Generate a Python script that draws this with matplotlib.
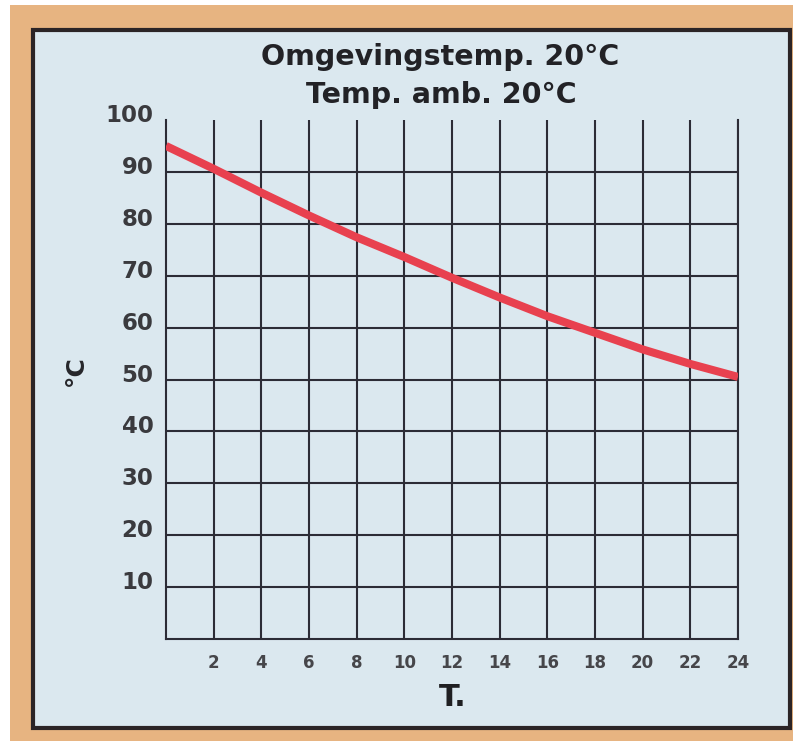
import numpy as np
import matplotlib
matplotlib.use('Agg')
import matplotlib.pyplot as plt
from matplotlib.patches import Rectangle
from matplotlib.transforms import ScaledTranslation

# cooling curve: water temperature over time, ambient 20 C
hours = [0, 2, 4, 6, 8, 10, 12, 14, 16, 18, 20, 22, 24]
temps = [95.0, 90.6, 86.0, 81.6, 77.4, 73.6, 69.6, 65.8, 62.2, 59.0, 55.8, 53.0, 50.5]

xticks = list(range(2, 25, 2))
yticks = list(range(10, 101, 10))
title_lines = ['Omgevingstemp. 20°C', 'Temp. amb. 20°C']

W, H = 793, 741
fig = plt.figure(figsize=(W / 100, H / 100), dpi=100, facecolor='white')

# printed card: orange backing, dark frame, pale blue panel
fig.patches.append(Rectangle((10 / W, 0), 1, 1 - 5 / H, transform=fig.transFigure,
                             facecolor='#e7b481', edgecolor='none', zorder=0))
fig.patches.append(Rectangle((33 / W, 1 - 728 / H), (790 - 33) / W, (728 - 30) / H,
                             transform=fig.transFigure, facecolor='#dbe8ef',
                             edgecolor='#2b2426', linewidth=3, zorder=1))

ax = fig.add_axes([166 / W, 1 - 639 / H, 572 / W, 519 / H], zorder=5)
ax.set_facecolor('none')
ax.set_xlim(0, 24)
ax.set_ylim(0, 100)

gridc = '#2c2c36'
ax.set_xticks(xticks)
ax.set_yticks(yticks)
ax.grid(True, color=gridc, linewidth=1.5)
ax.yaxis.get_gridlines()[-1].set_visible(False)
ax.spines['top'].set_visible(False)
for side in ['left', 'bottom', 'right']:
    ax.spines[side].set_color(gridc)
    ax.spines[side].set_linewidth(1.5)

ax.tick_params(axis='both', length=0)
ax.tick_params(axis='y', pad=9, labelsize=16.5, labelcolor='#3a3a3e')
ax.tick_params(axis='x', pad=11, labelsize=12, labelcolor='#46464a')
for lbl in ax.get_yticklabels():
    lbl.set_fontweight('bold')
    lbl.set_transform(lbl.get_transform() + ScaledTranslation(0, 7 / 100, fig.dpi_scale_trans))
for lbl in ax.get_xticklabels():
    lbl.set_fontweight('bold')

ax.plot(hours, temps, color='#e8414f', linewidth=5.8, solid_capstyle='butt', zorder=3)

fig.text(440 / W, 1 - 57 / H, title_lines[0], ha='center', va='center',
         fontsize=20.5, fontweight='bold', color='#222226')
fig.text(441 / W, 1 - 95 / H, title_lines[1], ha='center', va='center',
         fontsize=20.5, fontweight='bold', color='#222226')
fig.text(76 / W, 1 - 371 / H, '°C', rotation=90, ha='center', va='center',
         fontsize=18, fontweight='bold', color='#26262a')
fig.text(453 / W, 1 - 698 / H, 'T.', ha='center', va='center',
         fontsize=22, fontweight='bold', color='#1f1f22')

fig.savefig('out.png', dpi=100)
